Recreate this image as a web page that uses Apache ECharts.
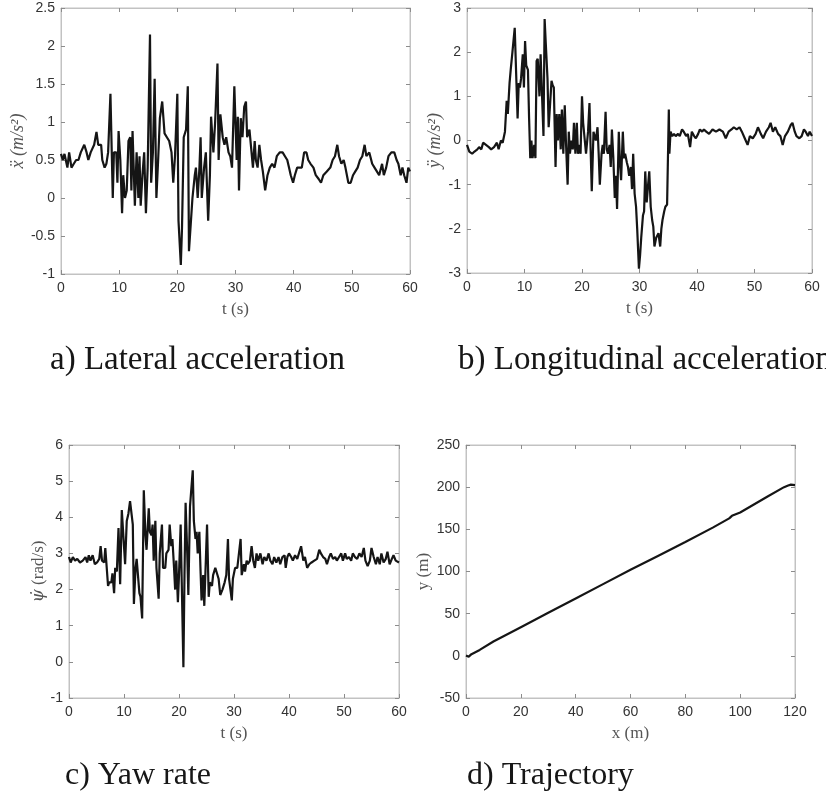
<!DOCTYPE html>
<html>
<head>
<meta charset="utf-8">
<script src="https://cdn.jsdelivr.net/npm/echarts@6/dist/echarts.min.js"></script>
<style>
html,body{margin:0;padding:0;background:#fff;}
#chart{width:826px;height:802px;}
</style>
</head>
<body>
<div id="chart"></div>
<script>
// ---- data ----
const lateralAcc = [[0,0.58],[0.3,0.5],[0.6,0.58],[1.1,0.4],[1.4,0.6],[1.8,0.4],[2.2,0.45],[2.6,0.5],[3.0,0.5],[3.4,0.6],[3.7,0.6],[4.0,0.7],[4.4,0.6],[4.7,0.5],[5.1,0.6],[5.7,0.7],[6.1,0.87],[6.4,0.7],[6.9,0.7],[7.1,0.5],[7.5,0.4],[7.8,0.45],[8.1,0.6],[8.5,1.37],[8.9,0.0],[9.1,0.6],[9.5,0.6],[9.7,0.2],[9.9,0.88],[10.2,0.5],[10.5,-0.2],[10.7,0.3],[11.0,0.0],[11.3,0.1],[11.6,0.75],[11.9,0.8],[12.1,0.1],[12.3,0.88],[12.7,-0.1],[13.0,0.6],[13.3,0.0],[13.5,0.55],[13.7,-0.1],[14.0,0.3],[14.3,0.6],[14.6,-0.2],[14.9,0.4],[15.3,2.15],[15.5,0.2],[15.8,0.6],[16.1,1.57],[16.4,0.0],[16.7,0.5],[17.0,1.05],[17.4,1.27],[17.8,0.85],[18.2,0.8],[18.6,0.75],[19.0,0.6],[19.3,0.2],[19.6,0.55],[20.0,1.37],[20.2,-0.3],[20.6,-0.88],[20.8,-0.4],[21.1,0.8],[21.5,0.9],[21.8,1.47],[22.0,-0.7],[22.3,-0.7],[22.6,0.0],[23.0,0.3],[23.2,0.4],[23.5,0.0],[23.8,0.4],[24.0,0.8],[24.2,0.0],[24.6,0.4],[24.9,0.6],[25.3,-0.3],[25.6,0.3],[25.8,1.07],[26.2,0.6],[26.5,1.0],[26.9,1.77],[27.1,0.5],[27.4,1.1],[27.8,0.8],[28.1,0.7],[28.4,0.8],[28.8,0.6],[29.1,0.55],[29.4,0.4],[29.8,1.47],[30.2,0.5],[30.4,1.07],[30.6,0.1],[30.9,1.05],[31.2,0.8],[31.5,1.2],[31.8,1.27],[32.0,0.8],[32.4,0.9],[32.7,0.65],[33.0,0.4],[33.3,0.75],[33.5,0.5],[33.8,0.4],[34.1,0.7],[34.4,0.5],[34.7,0.35],[35.1,0.1],[35.5,0.3],[35.9,0.4],[36.3,0.45],[36.7,0.4],[37.1,0.55],[37.6,0.6],[38.1,0.6],[38.5,0.55],[38.9,0.5],[39.2,0.4],[39.5,0.3],[39.9,0.2],[40.2,0.3],[40.6,0.4],[41.0,0.4],[41.4,0.4],[41.8,0.6],[42.2,0.6],[42.5,0.5],[42.9,0.45],[43.4,0.4],[43.8,0.3],[44.3,0.25],[44.7,0.2],[45.1,0.3],[45.7,0.35],[46.3,0.4],[46.7,0.5],[47.1,0.55],[47.5,0.7],[47.8,0.55],[48.2,0.45],[48.6,0.5],[48.9,0.4],[49.4,0.2],[49.8,0.2],[50.2,0.3],[50.6,0.35],[51.0,0.4],[51.4,0.5],[51.8,0.55],[52.2,0.7],[52.5,0.55],[53.0,0.6],[53.5,0.45],[53.9,0.4],[54.3,0.35],[54.7,0.3],[55.2,0.45],[55.5,0.3],[55.9,0.4],[56.3,0.55],[56.8,0.6],[57.3,0.6],[57.7,0.5],[58.0,0.45],[58.4,0.3],[58.7,0.4],[59.0,0.3],[59.4,0.2],[59.7,0.4],[60,0.35]];

const longitudinalAcc = [[0,-0.1],[0.4,-0.25],[0.9,-0.3],[1.3,-0.25],[1.8,-0.2],[2.1,-0.15],[2.5,-0.2],[2.8,-0.05],[3.3,-0.1],[3.8,-0.15],[4.2,-0.2],[4.7,-0.15],[5.2,-0.05],[5.5,-0.2],[5.9,0.0],[6.2,-0.05],[6.6,0.2],[6.9,0.9],[7.1,0.6],[7.4,1.3],[7.6,1.6],[7.9,2.0],[8.1,2.0],[8.3,2.55],[8.6,1.3],[8.8,0.5],[9.0,1.3],[9.2,1.2],[9.4,1.4],[9.7,1.95],[9.9,1.2],[10.1,2.25],[10.3,1.7],[10.6,1.6],[10.8,0.5],[11.0,-0.4],[11.2,0.0],[11.4,-0.4],[11.7,-0.1],[11.9,-0.4],[12.1,1.8],[12.3,1.85],[12.6,1.0],[12.8,1.95],[13.0,1.2],[13.3,0.1],[13.5,2.75],[13.7,2.2],[14.0,1.4],[14.2,0.3],[14.4,0.3],[14.7,1.35],[14.9,1.25],[15.1,1.2],[15.4,-0.6],[15.6,0.6],[15.8,0.0],[16.05,0.6],[16.3,-0.2],[16.5,0.7],[16.75,-0.3],[17.0,0.8],[17.2,0.0],[17.5,-1.0],[17.7,0.2],[17.9,-0.3],[18.15,0.0],[18.4,-0.2],[18.6,0.4],[18.85,-0.3],[19.1,0.4],[19.3,-0.3],[19.5,-0.1],[19.75,-0.3],[20.0,1.0],[20.2,0.4],[20.5,0.4],[20.7,-0.3],[21.05,0.2],[21.3,0.85],[21.5,-0.2],[21.7,-1.15],[22.0,0.2],[22.2,0.2],[22.4,0.0],[22.7,0.3],[22.9,-0.3],[23.1,-1.0],[23.4,-0.3],[23.6,-0.1],[23.8,-0.3],[24.1,0.65],[24.3,-0.2],[24.5,-0.3],[24.8,-0.1],[25.0,-0.6],[25.2,0.25],[25.45,-0.4],[25.7,-1.3],[25.9,-0.8],[26.1,-1.55],[26.4,0.2],[26.6,-0.5],[26.8,-0.9],[27.1,0.2],[27.3,-0.4],[27.5,-0.3],[27.8,-0.5],[28.0,-0.6],[28.2,-0.8],[28.5,-0.6],[28.7,-1.1],[28.9,-0.3],[29.15,-1.2],[29.4,-1.5],[29.6,-2.0],[29.9,-2.9],[30.1,-2.6],[30.3,-2.2],[30.6,-1.7],[30.8,-1.6],[31.0,-0.7],[31.25,-1.4],[31.5,-1.0],[31.7,-0.7],[31.95,-1.5],[32.2,-1.8],[32.4,-1.95],[32.6,-2.4],[32.9,-2.2],[33.1,-2.2],[33.3,-2.1],[33.6,-2.4],[33.8,-2.0],[34.0,-1.8],[34.3,-1.6],[34.5,-1.5],[34.8,-1.45],[35.1,0.7],[35.2,-0.3],[35.4,0.2],[35.7,0.1],[36.0,0.15],[36.3,0.1],[36.7,0.15],[37.0,0.1],[37.4,0.25],[37.7,0.2],[38.1,0.1],[38.4,0.15],[38.8,-0.15],[39.1,0.2],[39.5,0.1],[39.8,0.05],[40.2,0.15],[40.5,0.25],[40.9,0.2],[41.2,0.25],[41.6,0.2],[42.1,0.15],[42.7,0.25],[43.3,0.2],[43.9,0.25],[44.5,0.2],[45.0,0.05],[45.5,0.2],[46.0,0.25],[46.4,0.3],[46.9,0.25],[47.4,0.3],[47.8,0.2],[48.3,0.05],[48.8,-0.1],[49.2,0.1],[49.7,0.05],[50.2,0.15],[50.6,0.3],[51.1,0.15],[51.5,0.05],[52.0,0.2],[52.5,0.3],[52.8,0.4],[53.2,0.2],[53.6,0.3],[54.1,0.15],[54.5,0.1],[54.9,-0.1],[55.3,0.1],[55.8,0.2],[56.3,0.35],[56.6,0.4],[57.0,0.2],[57.3,0.1],[57.8,0.05],[58.2,0.1],[58.6,0.25],[58.9,0.2],[59.3,0.1],[59.6,0.2],[60,0.1]];

const yawRate = [[0,2.9],[0.3,2.75],[0.7,2.9],[1.1,2.8],[1.5,2.85],[2.0,2.75],[2.5,2.8],[3.0,2.9],[3.3,2.75],[3.6,2.95],[3.9,2.8],[4.3,2.95],[4.7,2.7],[5.1,2.75],[5.5,2.85],[5.75,3.2],[6.0,2.8],[6.4,2.75],[6.6,3.15],[6.9,3.1],[7.1,2.1],[7.3,2.2],[7.7,2.2],[7.9,2.45],[8.2,1.9],[8.4,2.6],[8.7,2.5],[9.0,3.7],[9.3,2.15],[9.6,4.2],[10.0,3.2],[10.2,2.7],[10.5,3.9],[10.8,4.1],[11.1,4.45],[11.3,4.4],[11.6,3.8],[11.8,1.6],[12.1,2.6],[12.3,2.85],[12.5,2.85],[12.8,1.9],[13.0,1.8],[13.3,1.2],[13.6,4.75],[13.9,3.5],[14.1,3.1],[14.5,4.25],[14.7,3.6],[15.0,3.5],[15.2,3.8],[15.4,2.8],[15.7,3.9],[15.9,2.6],[16.3,1.75],[16.5,3.0],[16.9,3.8],[17.1,2.6],[17.5,2.6],[17.7,3.0],[18.1,3.1],[18.3,3.8],[18.6,3.2],[18.8,3.4],[19.1,2.6],[19.3,2.0],[19.5,2.8],[19.8,1.65],[20.0,2.4],[20.3,3.8],[20.5,2.2],[20.8,-0.15],[21.0,2.4],[21.2,4.4],[21.5,3.0],[21.7,1.85],[22.0,4.3],[22.2,4.3],[22.5,5.3],[22.7,3.9],[23.0,3.4],[23.2,3.6],[23.4,3.0],[23.7,3.6],[23.9,2.6],[24.1,1.7],[24.4,2.4],[24.6,1.55],[24.9,2.9],[25.1,3.8],[25.4,1.8],[25.6,2.2],[26.0,2.1],[26.2,2.4],[26.6,2.6],[26.8,2.5],[27.2,2.3],[27.5,1.85],[27.9,2.0],[28.3,2.2],[28.6,2.4],[28.9,3.4],[29.1,2.3],[29.35,2.3],[29.6,1.7],[29.8,2.3],[30.2,2.6],[30.6,2.6],[30.9,2.6],[31.2,3.4],[31.4,2.4],[31.8,2.7],[32.0,2.5],[32.3,2.8],[32.5,2.7],[32.9,2.8],[33.2,3.2],[33.5,2.8],[33.8,2.6],[34.1,3.0],[34.4,2.8],[34.8,3.0],[35.2,2.7],[35.5,2.9],[35.9,2.8],[36.3,3.0],[36.6,2.8],[37.0,2.7],[37.3,2.9],[37.7,2.75],[38.1,2.9],[38.4,2.7],[38.8,2.9],[39.2,2.95],[39.4,2.6],[39.7,2.9],[40.0,3.0],[40.4,2.9],[40.7,2.8],[41.1,2.95],[41.5,2.85],[41.8,2.9],[42.2,3.2],[42.6,2.8],[42.9,2.9],[43.3,2.6],[43.7,2.7],[44.1,2.75],[44.6,2.8],[45.1,2.85],[45.5,3.1],[45.8,3.0],[46.2,2.9],[46.6,2.85],[46.9,2.7],[47.3,2.9],[47.6,3.0],[48.0,2.85],[48.4,2.9],[48.7,2.8],[49.1,2.9],[49.5,3.0],[49.8,2.8],[50.2,3.0],[50.5,2.85],[50.9,2.9],[51.3,2.8],[51.6,3.0],[52.0,2.9],[52.4,2.85],[52.8,3.0],[53.2,2.9],[53.6,3.15],[53.9,2.8],[54.3,2.65],[54.7,2.8],[55.0,3.15],[55.4,2.9],[55.8,2.7],[56.1,2.9],[56.5,2.7],[56.8,3.0],[57.2,2.75],[57.6,2.85],[57.9,3.05],[58.3,2.7],[58.7,2.85],[59.0,2.95],[59.4,2.8],[59.7,2.75],[60,2.75]];

const trajectory = [[0,0.5],[0.5,0],[1,-1],[1.5,0],[2,2],[5,7],[10,17],[20,34],[30,51],[40,68],[50,85],[60,102],[70,118.5],[80,135],[90,152],[96,163],[97,166],[100,170],[110,189],[116,200],[117.5,202],[118.5,203],[120,202.5]];

const captions = ['a) Lateral acceleration', 'b) Longitudinal acceleration', 'c) Yaw rate', 'd) Trajectory'];
const xNames = ['t (s)', 't (s)', 't (s)', 'x (m)'];
const yNames = ['ẍ (m/s²)', 'ÿ (m/s²)', '{i|ψ̇} (rad/s)', 'y (m)'];
const xTicks = [{min:0,max:60,interval:10},{min:0,max:60,interval:10},{min:0,max:60,interval:10},{min:0,max:120,interval:20}];
const yTicks = [{min:-1,max:2.5,interval:0.5},{min:-3,max:3,interval:1},{min:-1,max:6,interval:1},{min:-50,max:250,interval:50}];
const seriesData = [lateralAcc, longitudinalAcc, yawRate, trajectory];

// ---- layout ----
const grids = [
  {left:61, top:8, width:349, height:266},
  {left:467, top:8, width:345, height:265},
  {left:69, top:445, width:330, height:253},
  {left:466, top:445, width:329, height:253}
];
const yNameGap = [34, 21, 22, 34];
const yNameSize = [18, 18, 17, 17];
const yNameItalic = [true, true, false, false];
const captionPos = [[50,344],[458,344],[65,760],[467,760]];
const captionSize = [33, 33, 32, 32];

const axisGrey = '#c2c2c2';
const tickGrey = '#8c8c8c';
const labelFont = 'Liberation Sans';
const serif = 'Liberation Serif';

const option = {
  backgroundColor:'#fff',
  animation:false,
  grid: grids.map(g => Object.assign({show:true, borderColor:axisGrey, borderWidth:1, backgroundColor:'transparent'}, g)),
  xAxis:[], yAxis:[], series:[], graphic:[]
};

for (let i = 0; i < 4; i++) {
  const common = {
    type:'value', gridIndex:i, splitLine:{show:false},
    axisLine:{show:true, onZero:false, lineStyle:{color:axisGrey, width:1}},
    axisTick:{show:true, inside:true, length:4, lineStyle:{color:tickGrey}}
  };
  option.xAxis.push(Object.assign({}, common, xTicks[i], {
    position:'bottom',
    axisLabel:{color:'#333', fontSize:14, fontFamily:labelFont, margin:7},
    name:xNames[i], nameLocation:'middle', nameGap:27,
    nameTextStyle:{color:'#555', fontSize:17, fontFamily:serif}
  }));
  option.xAxis.push(Object.assign({}, common, xTicks[i], {
    position:'top', axisLabel:{show:false}
  }));
  option.yAxis.push(Object.assign({}, common, yTicks[i], {
    position:'left',
    axisLabel:{color:'#333', fontSize:14, fontFamily:labelFont, margin:6},
    name:yNames[i], nameLocation:'middle', nameGap:yNameGap[i],
    nameTextStyle:{color:'#555', fontSize:yNameSize[i], fontFamily:serif,
      fontStyle: yNameItalic[i] ? 'italic' : 'normal',
      rich:{i:{fontStyle:'italic', color:'#555', fontSize:yNameSize[i], fontFamily:'DejaVu Serif'}}}
  }));
  option.yAxis.push(Object.assign({}, common, yTicks[i], {
    position:'right', axisLabel:{show:false}
  }));
  option.series.push({
    type:'line', xAxisIndex:2*i, yAxisIndex:2*i, data:seriesData[i],
    showSymbol:false, symbol:'none',
    lineStyle:{color:'#151515', width:2.2}, silent:true
  });
  option.graphic.push({
    type:'text', left:captionPos[i][0], top:captionPos[i][1],
    style:{text:captions[i], font:captionSize[i] + 'px "' + serif + '"', fill:'#161616'}
  });
}

const chart = echarts.init(document.getElementById('chart'), null, {renderer:'canvas'});
chart.setOption(option);
</script>
</body>
</html>
